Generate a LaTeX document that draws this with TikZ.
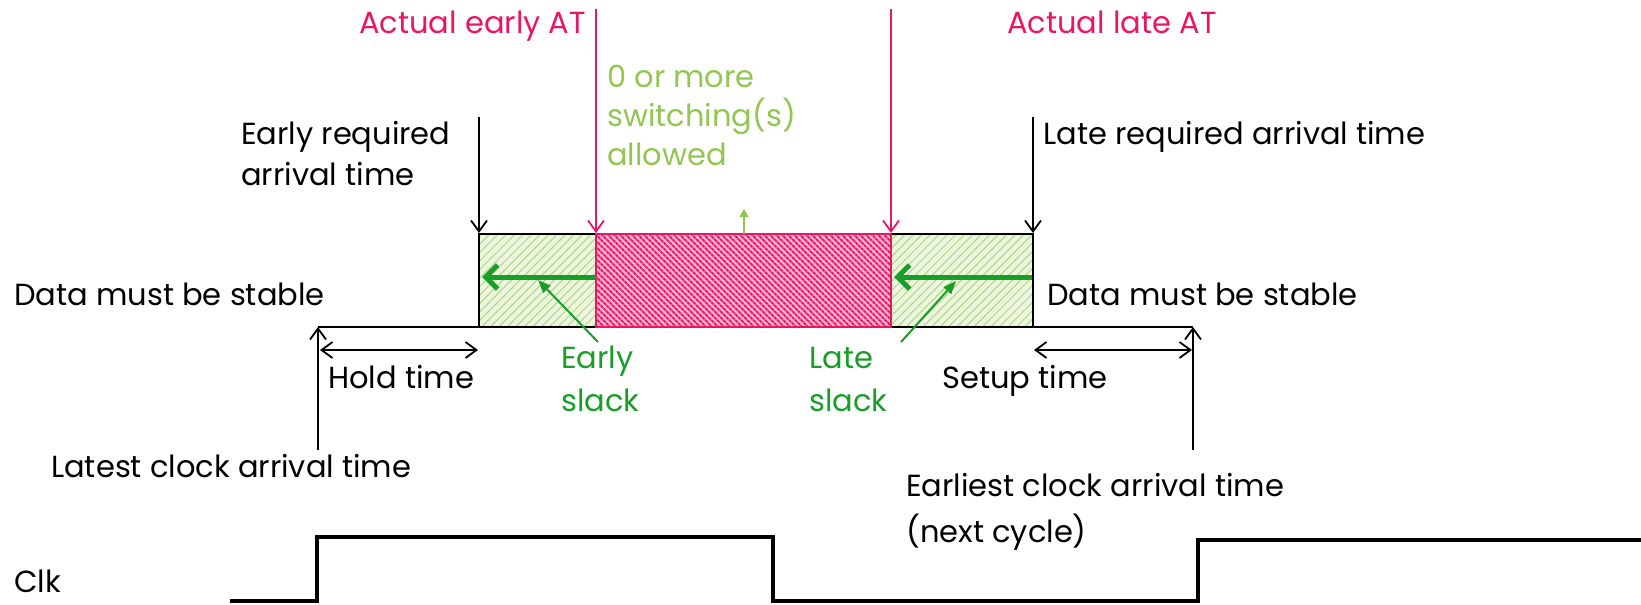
\documentclass[tikz,border=0pt]{standalone}
\usepackage{fontspec}
\setmainfont{Poppins}
\usetikzlibrary{arrows.meta,patterns.meta}
\definecolor{pinkc}{RGB}{233,22,99}
\definecolor{lgreen}{RGB}{146,198,80}
\definecolor{dgreen}{RGB}{24,158,40}
\definecolor{boxgreen}{RGB}{236,245,222}
\definecolor{hatchgreen}{RGB}{178,212,132}
\begin{document}
\begin{tikzpicture}[x=1pt,y=-1pt,
  every node/.style={inner sep=0pt, font=\fontsize{30.5}{38}\selectfont},
  txt/.style={anchor=base west},
  blk/.style={line width=1.8pt, black},
  varrow/.style={line width=1.8pt, -{Straight Barb[length=11pt,width=16pt]}},
  dbl/.style={line width=1.8pt, {Straight Barb[length=11pt,width=16pt]}-{Straight Barb[length=11pt,width=16pt]}},
  parrow/.style={line width=1.8pt, pinkc, -{Straight Barb[length=11pt,width=16pt]}},
  thick arrow/.style={line width=5pt, dgreen, -{Straight Barb[length=12pt,width=24pt]}},
  pointer/.style={line width=2pt, dgreen, -{Triangle[length=13pt,width=10pt]}},
  clockline/.style={line width=4.5pt, black, line join=miter}]
\useasboundingbox (0,0) rectangle (1641,605);

% key coordinates
\coordinate (eraTop) at (479,117);
\coordinate (eraTip) at (479,233);
\coordinate (lraTop) at (1033,117);
\coordinate (lraTip) at (1033,233);
\coordinate (eatTop) at (596,9);
\coordinate (eatTip) at (596,233);
\coordinate (latTop) at (891,9);
\coordinate (latTip) at (891,233);
\coordinate (swBase) at (744,234);
\coordinate (swTip) at (744,209);
\coordinate (lcaBot) at (318,450);
\coordinate (lcaTip) at (318,327);
\coordinate (ecaBot) at (1193,450);
\coordinate (ecaTip) at (1193,327);
\coordinate (holdL) at (320,350);
\coordinate (holdR) at (478,350);
\coordinate (setL) at (1034,350);
\coordinate (setR) at (1192,350);
\coordinate (gaStart) at (596,277);
\coordinate (gaTip) at (482,277);
\coordinate (gbStart) at (1032,277);
\coordinate (gbTip) at (894,277);
\coordinate (esFrom) at (598,342);
\coordinate (esTo) at (538,280);
\coordinate (lsFrom) at (901,342);
\coordinate (lsTo) at (956,281);

% green boxes
\fill[boxgreen] (479,234) rectangle (596,327);
\fill[boxgreen] (891,234) rectangle (1033,327);
\fill[pattern={Lines[angle=45,distance=6pt,line width=1pt]}, pattern color=hatchgreen] (479,234) rectangle (596,327);
\fill[pattern={Lines[angle=45,distance=6pt,line width=1pt]}, pattern color=hatchgreen] (891,234) rectangle (1033,327);
\draw[blk] (596,234) -- (479,234) -- (479,327);
\draw[blk] (891,234) -- (1033,234) -- (1033,327);
% data line
\draw[blk] (lcaTip) -- (ecaTip);
% pink region
\fill[pinkc!30] (596,234) rectangle (891,327);
\fill[pattern={Lines[angle=-45,distance=4pt,line width=2pt]}, pattern color=pinkc] (596,234) rectangle (891,327);
\draw[line width=1.8pt, pinkc] (596,234) rectangle (891,327);

% arrows
\draw[varrow] (eraTop) -- (eraTip);
\draw[varrow] (lraTop) -- (lraTip);
\draw[parrow] (eatTop) -- (eatTip);
\draw[parrow] (latTop) -- (latTip);
\draw[line width=2pt, lgreen, -{Triangle[length=8pt,width=9pt]}] (swBase) -- (swTip);
\draw[varrow] (lcaBot) -- (lcaTip);
\draw[varrow] (ecaBot) -- (ecaTip);
\draw[dbl] (holdL) -- (holdR);
\draw[dbl] (setL) -- (setR);
\draw[thick arrow] (gaStart) -- (gaTip);
\draw[thick arrow] (gbStart) -- (gbTip);
\draw[pointer] (esFrom) -- (esTo);
\draw[pointer] (lsFrom) -- (lsTo);

% texts
\node[txt, text=pinkc] (eat) at (359,33) {Actual early AT};
\node[txt, text=pinkc] (lat) at (1007,33) {Actual late AT};
\node[txt, text=lgreen] (sw1) at (607,87) {0 or more};
\node[txt, text=lgreen] (sw2) at (607,126) {switching(s)};
\node[txt, text=lgreen] (sw3) at (607,165) {allowed};
\node[txt] (er1) at (241,144) {Early required};
\node[txt] (er2) at (241,185) {arrival time};
\node[txt] (lr) at (1043,144) {Late required arrival time};
\node[txt] (dl) at (14,305) {Data must be stable};
\node[txt] (dr) at (1047,305) {Data must be stable};
\node[txt] (hold) at (328,388) {Hold time};
\node[txt] (setup) at (942,388) {Setup time};
\node[txt, text=dgreen] (es1) at (561,368) {Early};
\node[txt, text=dgreen] (es2) at (561,411) {slack};
\node[txt, text=dgreen] (ls1) at (809,368) {Late};
\node[txt, text=dgreen] (ls2) at (809,411) {slack};
\node[txt] (lca) at (51,477) {Latest clock arrival time};
\node[txt] (eca1) at (906,496) {Earliest clock arrival time};
\node[txt] (eca2) at (906,542) {(next cycle)};
\node[txt] (clk) at (14,592) {Clk};

% clock waveform
\coordinate (c0) at (230,601);
\coordinate (c1) at (317,601);
\coordinate (c2) at (317,537);
\coordinate (c3) at (773,537);
\coordinate (c4) at (773,601);
\coordinate (c5) at (1198,601);
\coordinate (c6) at (1198,540);
\coordinate (c7) at (1641,540);
\draw[clockline] (c0) -- (c1) -- (c2) -- (c3) -- (c4) -- (c5) -- (c6) -- (c7);
\end{tikzpicture}
\end{document}
